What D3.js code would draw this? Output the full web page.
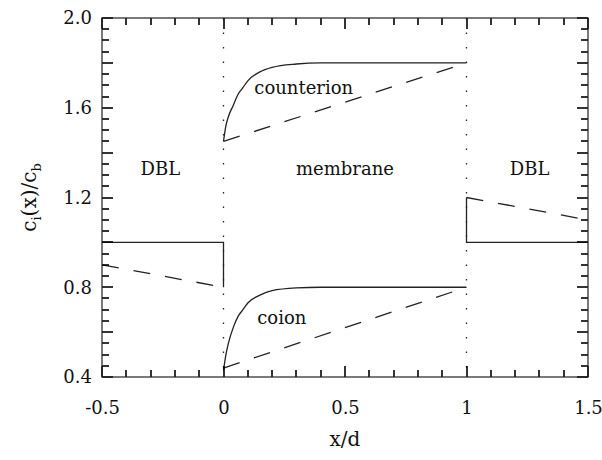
<!DOCTYPE html>
<html>
<head>
<meta charset="utf-8">
<script src="https://cdn.jsdelivr.net/npm/d3@7"></script>
<style>
  body { margin: 0; background: #fff; }
  text { font-family: "DejaVu Serif", "Liberation Serif", serif; fill: #111; }
</style>
</head>
<body>
<svg id="chart" width="602" height="460"></svg>
<script>
// values: [x/d, c_i(x)/c_b]
const solidLeft = [[-0.5, 1.0], [0, 1.0], [0, 0.8]];
const dashedLeft = [[-0.5, 0.9], [0, 0.8]];
const counterSolid = [[0, 1.45], [0.01, 1.52], [0.02, 1.56], [0.04, 1.61], [0.06, 1.66], [0.08, 1.69],
  [0.1, 1.72], [0.15, 1.76], [0.2, 1.78], [0.3, 1.795], [0.4, 1.8], [1, 1.8]];
const counterDashed = [[0, 1.45], [1, 1.8]];
const coionSolid = [[0, 0.43], [0.01, 0.5], [0.02, 0.55], [0.04, 0.62], [0.06, 0.67], [0.08, 0.7],
  [0.1, 0.73], [0.15, 0.765], [0.2, 0.785], [0.3, 0.797], [0.4, 0.8], [1, 0.8]];
const coionDashed = [[0, 0.44], [1, 0.8]];
const solidRight = [[1, 1.2], [1, 1.0], [1.5, 1.0]];
const dashedRight = [[1, 1.2], [1.5, 1.1]];
const boundaries = [0, 1];

const xTicks = [-0.5, 0, 0.5, 1, 1.5];
const yTicks = [0.4, 0.8, 1.2, 1.6, 2.0];
const xMinor = d3.range(-5, 16).map(i => i / 10);
const yMinor = d3.range(8, 41).map(i => i / 20);

const regionLabels = [
  {text: "DBL", x: -0.26, y: 1.30},
  {text: "membrane", x: 0.5, y: 1.30},
  {text: "DBL", x: 1.26, y: 1.30},
  {text: "counterion", x: 0.33, y: 1.66},
  {text: "coion", x: 0.24, y: 0.636}
];

const svg = d3.select("#chart");
const margin = {top: 18, right: 14, bottom: 83, left: 102};
const width = +svg.attr("width") - margin.left - margin.right;
const height = +svg.attr("height") - margin.top - margin.bottom;

const g = svg.append("g").attr("transform", `translate(${margin.left},${margin.top})`);

const x = d3.scaleLinear().domain([-0.5, 1.5]).range([0, width]);
const y = d3.scaleLinear().domain([0.4, 2.0]).range([height, 0]);

const isMajorX = v => Math.abs(v * 2 - Math.round(v * 2)) < 1e-6;
const isMajorY = v => Math.abs(v * 5 - Math.round(v * 5)) < 1e-6;

// tick labels
const xAxis = g.append("g")
  .attr("transform", `translate(0,${height})`)
  .call(d3.axisBottom(x).tickValues(xTicks).tickSize(0).tickPadding(24).tickFormat(d => String(d)));
const yAxis = g.append("g")
  .call(d3.axisLeft(y).tickValues(yTicks).tickSize(0).tickPadding(10).tickFormat(d3.format(".1f")));
[xAxis, yAxis].forEach(a => {
  a.select(".domain").remove();
  a.selectAll("text").attr("font-size", 18).attr("font-family", "DejaVu Serif, serif").attr("fill", "#111");
});

// membrane boundaries
g.selectAll(null).data(boundaries).enter().append("line")
  .attr("x1", d => x(d)).attr("x2", d => x(d))
  .attr("y1", 0).attr("y2", height)
  .attr("stroke", "#222").attr("stroke-width", 1.3)
  .attr("stroke-dasharray", "1.5,13");

const line = d3.line().x(d => x(d[0])).y(d => y(d[1]));
const curve = d3.line().x(d => x(d[0])).y(d => y(d[1])).curve(d3.curveMonotoneX);

g.selectAll(null).data([solidLeft, solidRight]).enter().append("path")
  .attr("d", line).attr("fill", "none").attr("stroke", "#222").attr("stroke-width", 1.3);
g.selectAll(null).data([counterSolid, coionSolid]).enter().append("path")
  .attr("d", curve).attr("fill", "none").attr("stroke", "#222").attr("stroke-width", 1.3);
g.selectAll(null).data([dashedLeft, counterDashed, coionDashed, dashedRight]).enter().append("path")
  .attr("d", line).attr("fill", "none").attr("stroke", "#222").attr("stroke-width", 1.3)
  .attr("stroke-dasharray", "17,15");

// inward ticks on all four sides
const tickGroup = g.append("g");
[0, height].forEach(edge => {
  const dir = edge === 0 ? 1 : -1;
  tickGroup.selectAll(null).data(xMinor).enter().append("line")
    .attr("x1", d => Math.round(x(d))).attr("x2", d => Math.round(x(d)))
    .attr("y1", edge).attr("y2", d => edge + dir * (isMajorX(d) ? 11 : 7))
    .attr("stroke", "#000").attr("stroke-width", 1.6);
});
[0, width].forEach(edge => {
  const dir = edge === 0 ? 1 : -1;
  tickGroup.selectAll(null).data(yMinor).enter().append("line")
    .attr("y1", d => Math.round(y(d))).attr("y2", d => Math.round(y(d)))
    .attr("x1", edge).attr("x2", d => edge + dir * (isMajorY(d) ? 11 : 7))
    .attr("stroke", "#000").attr("stroke-width", 1.6);
});

g.append("rect")
  .attr("width", width).attr("height", height)
  .attr("fill", "none").attr("stroke", "#222").attr("stroke-width", 1.2);

g.selectAll(null).data(regionLabels).enter().append("text")
  .attr("x", d => x(d.x)).attr("y", d => y(d.y))
  .attr("text-anchor", "middle").attr("font-size", 18)
  .text(d => d.text);

// axis titles
svg.append("text")
  .attr("x", margin.left + width / 2).attr("y", 446)
  .attr("text-anchor", "middle").attr("font-size", 20)
  .text("x/d");

const yt = svg.append("text")
  .attr("transform", `translate(36,${margin.top + height / 2}) rotate(-90)`)
  .attr("text-anchor", "middle").attr("font-size", 20);
yt.append("tspan").text("c");
yt.append("tspan").attr("font-size", 13).attr("dy", 5).text("i");
yt.append("tspan").attr("dy", -5).text("(x)/c");
yt.append("tspan").attr("font-size", 13).attr("dy", 5).text("b");
</script>
</body>
</html>
